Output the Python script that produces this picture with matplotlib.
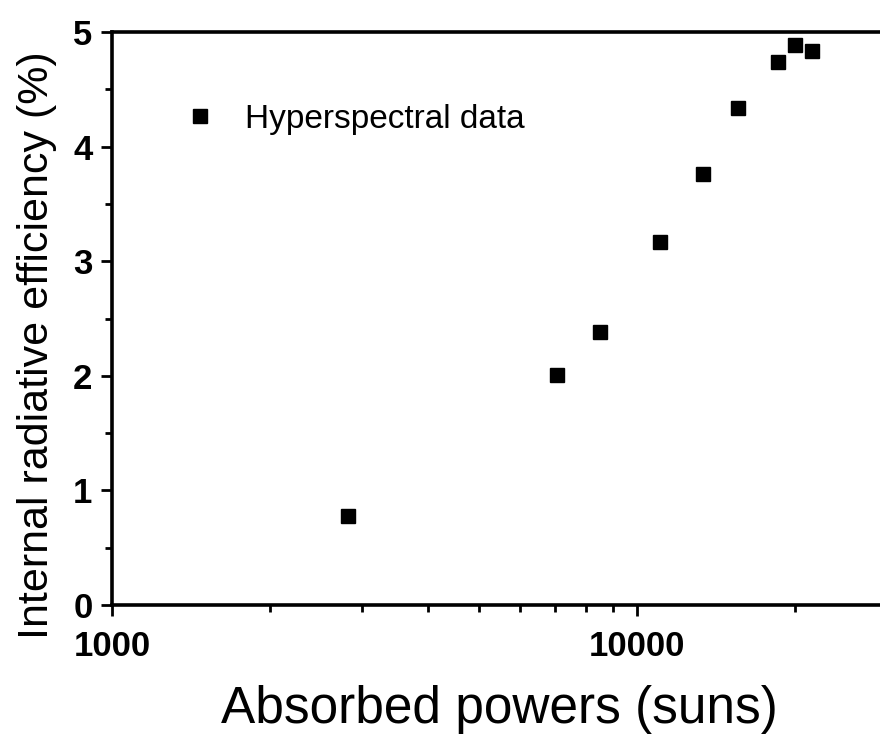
"""Internal radiative efficiency vs absorbed power (hyperspectral data)."""
import matplotlib
matplotlib.use("Agg")
import matplotlib.pyplot as plt
from matplotlib.ticker import LogLocator, FixedLocator, MultipleLocator, NullFormatter

plt.rcParams["font.family"] = ["Liberation Sans", "DejaVu Sans"]

absorbed_suns = [2820, 7050, 8530, 11100, 13360, 15630, 18560, 20000, 21540]
efficiency_pct = [0.78, 2.01, 2.38, 3.17, 3.76, 4.34, 4.74, 4.89, 4.83]
x_ticks = [1000, 10000]
y_ticks = [0, 1, 2, 3, 4, 5]

fig = plt.figure(figsize=(8.8, 7.42), dpi=100)
ax = fig.add_axes([0.1273, 0.1846, 0.8807, 0.7723])

ax.plot(absorbed_suns, efficiency_pct, "s", color="black", markersize=9.5,
        label="Hyperspectral data")

ax.set_xscale("log")
ax.set_xlim(1000, 30000)
ax.set_ylim(0, 5)
ax.xaxis.set_major_locator(FixedLocator(x_ticks))
ax.set_xticklabels([str(t) for t in x_ticks])
ax.xaxis.set_minor_locator(LogLocator(base=10, subs=range(2, 10)))
ax.xaxis.set_minor_formatter(NullFormatter())
ax.set_yticks(y_ticks)
ax.yaxis.set_minor_locator(MultipleLocator(0.5))

for side in ("top", "bottom", "left", "right"):
    ax.spines[side].set_linewidth(2.6)
ax.tick_params(which="major", direction="out", length=8, width=2,
               labelsize=25)
ax.tick_params(which="minor", direction="out", length=5, width=2)
ax.tick_params(axis="x", which="major", pad=10)
ax.tick_params(axis="y", which="major", pad=6)
for lab in ax.get_xticklabels() + ax.get_yticklabels():
    lab.set_fontweight("bold")

ax.set_xlabel("Absorbed powers (suns)", fontsize=37, labelpad=16)
ax.set_ylabel("Internal radiative efficiency (%)", fontsize=31)
ax.yaxis.set_label_coords(-0.071, 0.454)

ax.legend(loc="center left", bbox_to_anchor=(0.032, 0.848), frameon=False,
          fontsize=24, handletextpad=0.35, markerscale=1.0)

fig.savefig("out.png", dpi=100)
